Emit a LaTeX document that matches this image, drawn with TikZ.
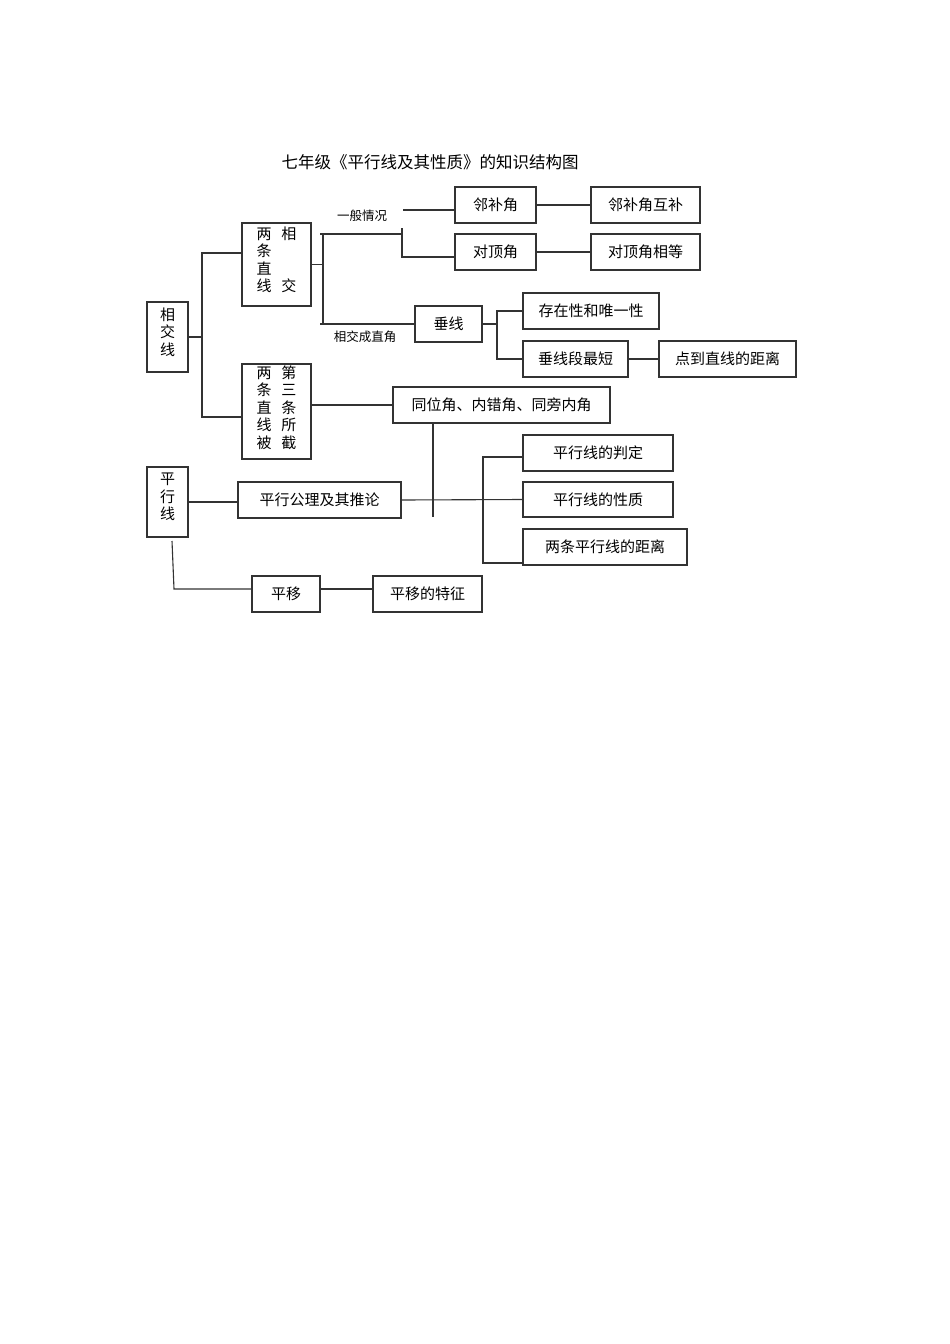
\documentclass[tikz,border=0pt]{standalone}
\usepackage{fontspec}
\newfontfamily\cjk{Noto Sans CJK SC}

\begin{document}
\begin{tikzpicture}[x=1pt, y=-1pt,
  kuang/.style={draw=black!80, line width=1.1pt, inner sep=0pt, minimum height=36pt, font=\cjk\fontsize{15}{16.3}\selectfont},
  shu/.style={kuang, minimum width=41pt, minimum height=70pt},
  lian/.style={draw=black!80, line width=1.1pt},
  biaoqian/.style={inner sep=0pt, font=\cjk\fontsize{12.5}{14}\selectfont}]
\useasboundingbox (0,0) rectangle (950,1344);
\node[font=\cjk\fontsize{16.5}{18}\selectfont] (biaoti) at (430,162) {七年级《平行线及其性质》的知识结构图};
% left column
\node[shu] (xjx) at (167.5,337) {\begin{tabular}{@{}c@{}}相\\交\\线\\[6pt]\end{tabular}};
\node[shu] (pxx) at (167.5,502) {\begin{tabular}{@{}c@{}}平\\行\\线\\[6pt]\end{tabular}};
\node[kuang, minimum width=69pt, minimum height=83pt] (xj) at (276.5,264.5) {\begin{tabular}{@{}c@{\hspace{10pt}}c@{}}两&相\\条&\\直&\\线&交\\[6pt]\end{tabular}};
\node[kuang, minimum width=69pt, minimum height=95pt] (jz) at (276.5,411.5) {\begin{tabular}{@{}c@{\hspace{10pt}}c@{}}两&第\\条&三\\直&条\\线&所\\被&截\\[4pt]\end{tabular}};
% intersecting lines
\node[kuang, minimum width=81pt] (lb) at (495.5,205) {邻补角};
\node[kuang, minimum width=109pt] (lbhb) at (645.5,205) {邻补角互补};
\node[kuang, minimum width=81pt] (dd) at (495.5,252) {对顶角};
\node[kuang, minimum width=109pt] (ddxd) at (645.5,252) {对顶角相等};
\node[kuang, minimum width=67pt] (cx) at (448.5,324) {垂线};
\node[kuang, minimum width=136pt] (wy) at (591,311) {存在性和唯一性};
\node[kuang, minimum width=105pt] (zd) at (575.5,359) {垂线段最短};
\node[kuang, minimum width=137pt] (dl) at (727.5,359) {点到直线的距离};
\node[biaoqian] (ybqk) at (362,216) {一般情况};
\node[biaoqian] (xjzj) at (365,337) {相交成直角};
% parallel lines
\node[kuang, minimum width=217pt] (tw) at (501.5,405) {同位角、内错角、同旁内角};
\node[kuang, minimum width=163pt] (gl) at (319.5,500) {平行公理及其推论};
\node[kuang, minimum width=150pt] (pd) at (598,453) {平行线的判定};
\node[kuang, minimum width=150pt, minimum height=35pt] (xz) at (598,499.5) {平行线的性质};
\node[kuang, minimum width=164pt] (jl) at (605,547) {两条平行线的距离};
\node[kuang, minimum width=68pt] (py) at (286,594) {平移};
\node[kuang, minimum width=109pt] (pytz) at (427.5,594) {平移的特征};
% branch points
\coordinate (v1t) at (202,253);
\coordinate (v1b) at (202,417);
\coordinate (v2t) at (323,234);
\coordinate (v2b) at (323,324);
\coordinate (k0) at (403,210);
\coordinate (k1) at (402,228);
\coordinate (k2) at (402,257);
\coordinate (v3t) at (497,311);
\coordinate (v3b) at (497,359);
\coordinate (v4b) at (433,517);
\coordinate (v5t) at (483,457);
\coordinate (v5b) at (483,563);
\coordinate (c5) at (172,541);
\coordinate (c6) at (174,589);
% connectors
\draw[lian] (xjx.east) -- (xjx.east -| v1t);
\draw[lian] (xj.west |- v1t) -- (v1t) -- (v1b) -- (jz.west |- v1b);
\draw[lian] (xj.east) -- (xj.east -| v2t);
\draw[lian] (v2t) -- (v2b);
\draw[lian] ([xshift=-3pt]v2t) -- (v2t -| k1);
\draw[lian] (k1) -- (k2) -- (k2 -| dd.west);
\draw[lian] (k0) -- (k0 -| lb.west);
\draw[lian] ([xshift=-3pt]v2b) -- (cx.west);
\draw[lian] (lb) -- (lbhb);
\draw[lian] (dd) -- (ddxd);
\draw[lian] (cx.east) -- (cx.east -| v3t);
\draw[lian] (wy.west) -- (v3t) -- (v3b) -- (zd.west);
\draw[lian] (zd) -- (dl);
\draw[lian] (tw.west) -- (tw.west -| jz.east);
\draw[lian] (tw.south -| v4b) -- (v4b);
\draw[lian] (pxx.east) -- (pxx.east -| gl.west);
\draw[lian] (gl.east) -- (xz.west);
\draw[lian] (v5t -| pd.west) -- (v5t) -- (v5b) -- (v5b -| jl.west);
\draw[lian] (c5) -- (c6) -- (c6 -| py.west);
\draw[lian] (py.east |- c6) -- (c6 -| pytz.west);
\end{tikzpicture}
\end{document}
